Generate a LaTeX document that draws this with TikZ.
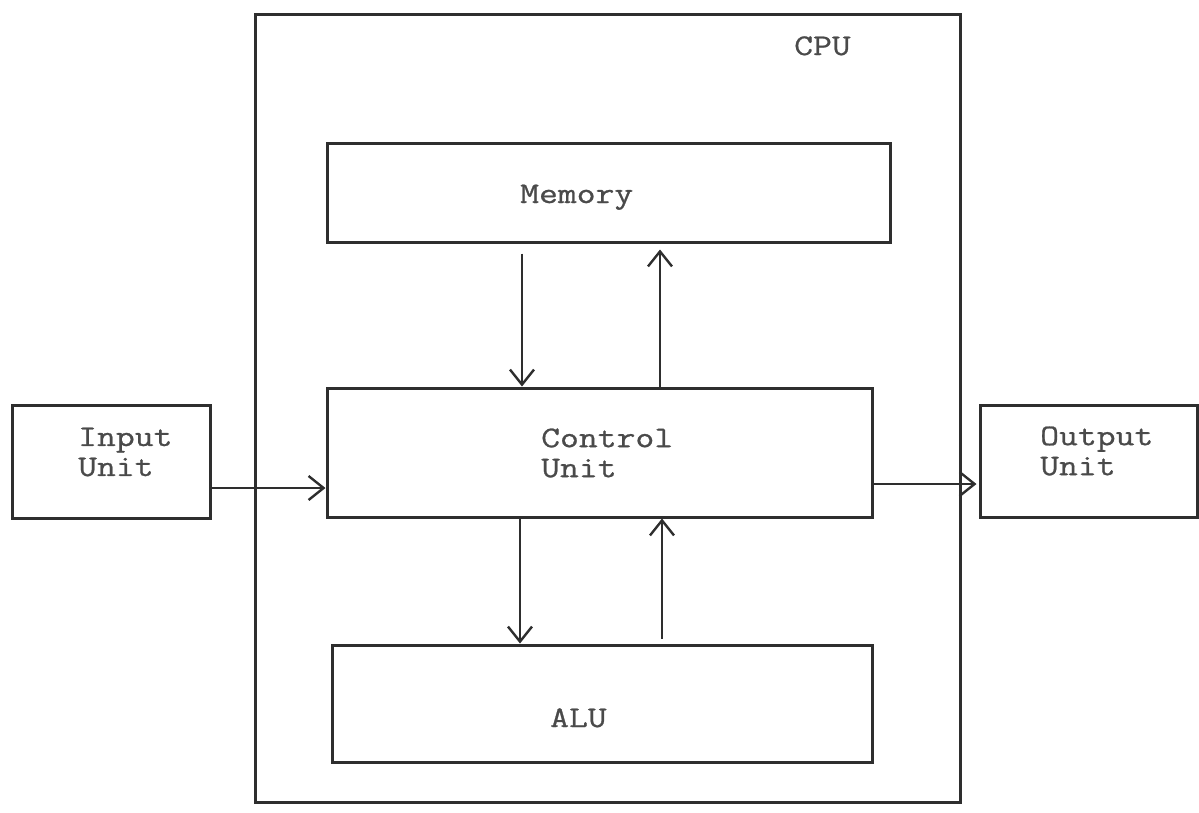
\documentclass[tikz,border=0pt]{standalone}
\usepackage{fontspec}
\setmonofont[FakeStretch=1.22,FakeBold=0.8]{Latin Modern Mono}
\usetikzlibrary{arrows.meta}
\definecolor{ink}{HTML}{2E2E2E}
\definecolor{typeink}{HTML}{4A4A4A}
\tikzset{
  box/.style={draw=ink, line width=3pt, rectangle, inner sep=0pt},
  lbl/.style={inner sep=0pt, text=typeink, font=\ttfamily\fontsize{30}{30}\selectfont, align=left},
  flow/.style={draw=ink, line width=2.4pt, -{Straight Barb[length=15pt,width=24pt,line width=2.4pt]}},
}
\begin{document}
\begin{tikzpicture}[x=1pt,y=-1pt]
  \useasboundingbox (0,0) rectangle (1199,812);
  % frame of the processor and its parts
  \node[box, minimum width=705pt, minimum height=788pt] (cpu) at (607.5,408) {};
  \node[box, minimum width=563pt, minimum height=99pt] (mem) at (608.5,192.5) {};
  \node[box, minimum width=545pt, minimum height=129pt] (cu) at (599.5,452.5) {};
  \node[box, minimum width=540pt, minimum height=117pt] (alu) at (602,703.5) {};
  \node[box, minimum width=198pt, minimum height=113pt] (in) at (111,461.5) {};
  \node[box, minimum width=217pt, minimum height=112pt] (out) at (1088.5,461) {};
  % labels
  \node[lbl, anchor=base west] (cputxt) at (794,55) {CPU};
  \node[lbl, anchor=base west] (memtxt) at (520,203) {Memory};
  \node[lbl, anchor=west] (cutxt) at (541,453) {Control\\Unit};
  \node[lbl, anchor=base west] (alutxt) at (550,727) {ALU};
  \node[lbl, anchor=west] (intxt) at (78,452) {Input\\Unit};
  \node[lbl, anchor=west] (outtxt) at (1040,451) {Output\\Unit};
  % columns of the vertical connectors
  \coordinate (c1) at (522,0);
  \coordinate (c2) at (660,0);
  \coordinate (c3) at (520,0);
  \coordinate (c4) at (662,0);
  \coordinate (r1) at (0,488);
  \coordinate (r2) at (0,484);
  % connectors
  \draw[flow, shorten <=10pt] (mem.south -| c1) -- (cu.north -| c1);
  \draw[flow, shorten >=6pt] (cu.north -| c2) -- (mem.south -| c2);
  \draw[flow] (cu.south -| c3) -- (alu.north -| c3);
  \draw[flow, shorten <=5pt] (alu.north -| c4) -- (cu.south -| c4);
  \draw[flow] (in.east |- r1) -- (cu.west |- r1);
  \draw[flow, shorten >=2pt] (cu.east |- r2) -- (out.west |- r2);
\end{tikzpicture}
\end{document}
